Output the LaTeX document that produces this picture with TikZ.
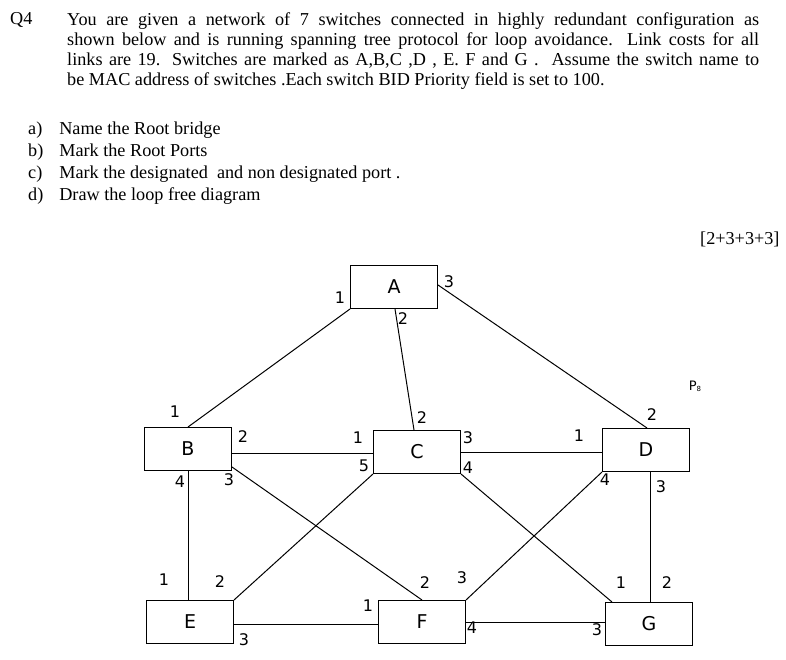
\documentclass[tikz,border=0pt]{standalone}
\usepackage{fontspec}
\setmainfont{Liberation Serif}
\newfontfamily\djv{DejaVu Sans}
\begin{document}
\begin{tikzpicture}[x=1pt,y=-1pt,
  sw/.style={draw,line width=1pt,minimum width=87pt,minimum height=43pt,inner sep=0pt,font=\djv\fontsize{19}{19}\selectfont},
  pl/.style={font=\djv\fontsize{16}{16}\selectfont,inner sep=0pt},
  ln/.style={line width=1pt},
  tx/.style={anchor=north west,inner sep=0pt,font=\fontsize{18.2}{20}\selectfont}]
\useasboundingbox (0,0) rectangle (786,660);
\node[tx] (q) at (10,12) {Q4};
\node[tx,text width=692pt,align=justify] (p) at (67,12) {You are given a network of 7 switches connected in highly redundant configuration as\linebreak shown below and is running spanning tree protocol for loop avoidance. Link costs for all\linebreak links are 19. Switches are marked as A,B,C ,D , E. F and G .\ \ Assume the switch name to\linebreak be MAC address of switches .Each switch BID Priority field is set to 100.};
\node[tx,align=left,font=\fontsize{18.2}{22}\selectfont] (l) at (28,122) {a)\hspace{17pt}Name the Root bridge\\ b)\hspace{16pt}Mark the Root Ports\\ c)\hspace{17pt}Mark the designated\ \ and non designated port .\\ d)\hspace{16pt}Draw the loop free diagram};
\node[tx] (m) at (700,232) {[2+3+3+3]};
\node[inner sep=0pt,font=\djv\fontsize{13}{13}\selectfont] (p8) at (695,386) {P\raisebox{-1pt}{\fontsize{7}{7}\selectfont 8}};
\node[sw] (A) at (394,287) {A};
\node[sw] (B) at (188,449) {B};
\node[sw] (C) at (417,452) {C};
\node[sw] (D) at (646,450) {D};
\node[sw] (E) at (190,622) {E};
\node[sw] (F) at (422,622) {F};
\node[sw] (G) at (649,624) {G};
\draw[ln] (A.south west) -- (B.north);
\draw[ln] ([xshift=1pt]A.south) -- ([xshift=-3pt]C.north);
\draw[ln] ([yshift=2pt]A.east) -- ([xshift=1pt]D.north);
\draw[ln] ([yshift=-4pt]B.east) -- ([yshift=-4pt]B.east -| C.west);
\draw[ln] (B.south) -- ([xshift=-2pt]E.north);
\draw[ln] ([yshift=4pt]B.south east) -- (F.north);
\draw[ln] (C.south west) -- (E.north east);
\draw[ln] (C.south east) -- ([xshift=7pt]G.north west);
\draw[ln] (C.east) -- (C.east -| D.west);
\draw[ln] (D.south west) -- (F.north east);
\draw[ln] ([xshift=4pt]D.south) -- ([xshift=1pt]G.north);
\draw[ln] ([yshift=-2pt]E.east) -- ([yshift=-2pt]E.east -| F.west);
\draw[ln] (F.east) -- (F.east -| G.west);
\node[pl] at (340,298) {1}; \node[pl] at (449,282) {3}; \node[pl] at (403,319) {2};
\node[pl] at (175,412) {1}; \node[pl] at (243,437) {2}; \node[pl] at (180,482) {4}; \node[pl] at (229,480) {3};
\node[pl] at (422,418) {2}; \node[pl] at (358,438) {1}; \node[pl] at (468,438) {3}; \node[pl] at (364,466) {5}; \node[pl] at (468,468) {4};
\node[pl] at (579,436) {1}; \node[pl] at (652,415) {2}; \node[pl] at (605,480) {4}; \node[pl] at (661,487) {3};
\node[pl] at (164,580) {1}; \node[pl] at (220,582) {2}; \node[pl] at (244,640) {3};
\node[pl] at (368,606) {1}; \node[pl] at (425,583) {2}; \node[pl] at (462,578) {3}; \node[pl] at (472,628) {4};
\node[pl] at (621,583) {1}; \node[pl] at (667,583) {2}; \node[pl] at (597,630) {3};
\end{tikzpicture}
\end{document}
